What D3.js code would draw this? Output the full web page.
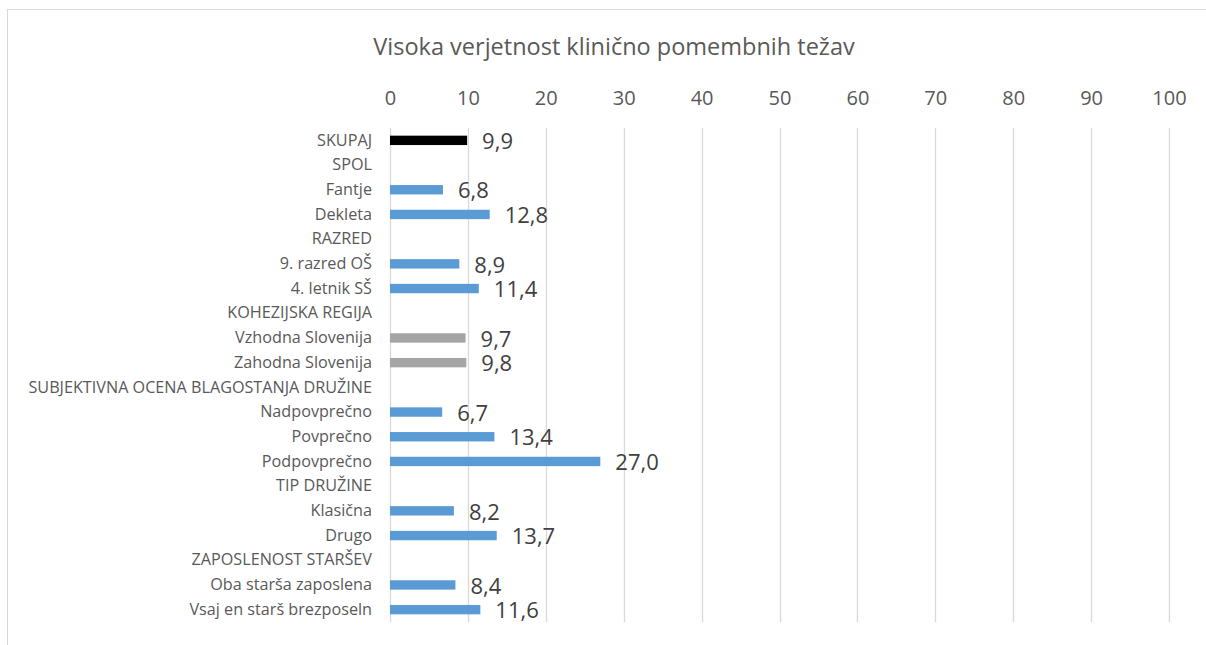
<!DOCTYPE html>
<html>
<head>
<meta charset="utf-8">
<script src="https://cdn.jsdelivr.net/npm/d3@7"></script>
<style>
  body { margin: 0; background: #fff; }
  text { font-family: "Open Sans", sans-serif; }
</style>
</head>
<body>
<svg width="1206" height="645"></svg>
<script>
var categories = [
  "SKUPAJ", "SPOL", "Fantje", "Dekleta", "RAZRED", "9. razred OŠ", "4. letnik SŠ",
  "KOHEZIJSKA REGIJA", "Vzhodna Slovenija", "Zahodna Slovenija",
  "SUBJEKTIVNA OCENA BLAGOSTANJA DRUŽINE", "Nadpovprečno", "Povprečno", "Podpovprečno",
  "TIP DRUŽINE", "Klasična", "Drugo", "ZAPOSLENOST STARŠEV",
  "Oba starša zaposlena", "Vsaj en starš brezposeln"
];
var values = [9.9, null, 6.8, 12.8, null, 8.9, 11.4, null, 9.7, 9.8,
  null, 6.7, 13.4, 27.0, null, 8.2, 13.7, null, 8.4, 11.6];
var groups = ["total", null, "blue", "blue", null, "blue", "blue", null, "gray", "gray",
  null, "blue", "blue", "blue", null, "blue", "blue", null, "blue", "blue"];
var ticks = [0, 10, 20, 30, 40, 50, 60, 70, 80, 90, 100];
var title = "Visoka verjetnost klinično pomembnih težav";

var colors = { total: "#000000", blue: "#5b9bd5", gray: "#a5a5a5" };

var svg = d3.select("svg");
var margin = { top: 128, left: 390, right: 37, bottom: 23 };
var width = 1206 - margin.left - margin.right;
var height = 645 - margin.top - margin.bottom;

// chart border
svg.append("rect")
  .attr("x", 7.5).attr("y", 9.5)
  .attr("width", 1220).attr("height", 700)
  .attr("fill", "none")
  .attr("stroke", "#d9d9d9");

svg.append("text")
  .attr("x", 614).attr("y", 55)
  .attr("text-anchor", "middle")
  .attr("font-size", 23.5)
  .attr("fill", "#595959")
  .text(title);

var g = svg.append("g")
  .attr("transform", "translate(" + margin.left + "," + margin.top + ")");

var x = d3.scaleLinear().domain([0, 100]).range([0, 779]);
var y = d3.scaleBand().domain(categories).range([0, 494]).paddingInner(0.62).paddingOuter(0.31);

// gridlines
g.selectAll(".grid")
  .data(ticks)
  .enter().append("line")
  .attr("class", "grid")
  .attr("x1", function(d) { return Math.round(x(d)) + 0.5; })
  .attr("x2", function(d) { return Math.round(x(d)) + 0.5; })
  .attr("y1", 0).attr("y2", 494)
  .attr("stroke", "#d9d9d9")
  .attr("stroke-width", 1.3);

// top axis labels
var xAxis = d3.axisTop(x).tickValues(ticks).tickSize(0).tickPadding(0);
var ax = g.append("g")
  .attr("transform", "translate(0,-23)")
  .call(xAxis);
ax.select(".domain").remove();
ax.selectAll("text")
  .attr("font-family", "Open Sans")
  .attr("font-size", 20)
  .attr("fill", "#595959");

// category labels
var yAxis = d3.axisLeft(y).tickSize(0).tickPadding(18);
var ay = g.append("g").call(yAxis);
ay.select(".domain").remove();
ay.selectAll("text")
  .attr("font-family", "Open Sans")
  .attr("font-size", 16.2)
  .attr("fill", "#595959");

var rows = categories.map(function(c, i) {
  return { cat: c, value: values[i], group: groups[i] };
}).filter(function(d) { return d.value !== null; });

g.selectAll(".bar")
  .data(rows)
  .enter().append("rect")
  .attr("class", "bar")
  .attr("x", x(0))
  .attr("y", function(d) { return y(d.cat); })
  .attr("width", function(d) { return x(d.value) - x(0); })
  .attr("height", y.bandwidth())
  .attr("fill", function(d) { return colors[d.group]; });

g.selectAll(".val")
  .data(rows)
  .enter().append("text")
  .attr("class", "val")
  .attr("x", function(d) { return x(d.value) + 15; })
  .attr("y", function(d) { return y(d.cat) + y.bandwidth() / 2 + 1; })
  .attr("dy", "0.35em")
  .attr("font-size", 22)
  .attr("fill", "#404040")
  .text(function(d) { return d.value.toFixed(1).replace(".", ","); });
</script>
</body>
</html>
